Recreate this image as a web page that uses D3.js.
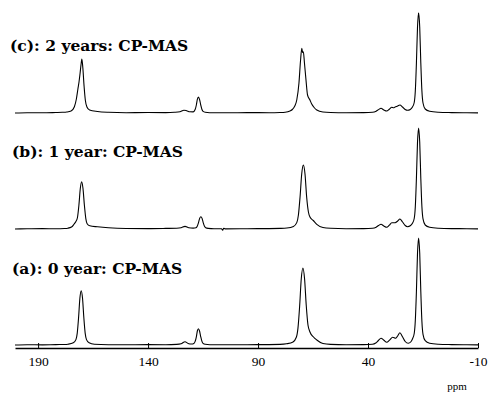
<!DOCTYPE html>
<html>
<head>
<meta charset="utf-8">
<script src="https://cdn.jsdelivr.net/npm/d3@7/dist/d3.min.js"></script>
<style>
  html, body { margin: 0; padding: 0; background: #fff; }
  svg { display: block; }
</style>
</head>
<body>
<svg id="chart" width="490" height="394"></svg>
<script>
// ---- data (ppm, intensity above baseline) ----
const tickValues = [190, 140, 90, 40, -10];
const tickLabels = ["190", "140", "90", "40", "-10"];
const axisUnit = "ppm";
const seriesLabels = ["(a): 0 year: CP-MAS", "(b): 1 year: CP-MAS", "(c): 2 years: CP-MAS"];

const specA = [
[200.5,0],[195,0.3],[188,0.1],[182,0.4],[178,0.5],[176.4,0.8],[174.0,2.2],[172.8,5.4],[172.2,11.9],[171.6,27.2],[171.0,46.7],[170.4,54.3],[169.8,46.7],[169.2,27.2],[168.6,11.9],[168.0,5.4],[166.8,2.2],[164.4,0.8],[158,0.3],[150,0.2],[140,0.4],[132,0.3],[127,0.6],[125,1.2],[123.2,3.3],[121.8,1.6],[120.2,1.0],[119.2,1.6],[118.6,3.6],[118.05,8.2],[117.6,14.0],[117.1,16.3],[116.6,14.0],[116.05,8.2],[115.5,3.6],[115.0,1.6],[114.0,0.7],[111.9,0.3],[105,0.2],[95,0.3],[85,0.4],[80,0.6],[77.1,1.2],[74.1,3.1],[72.6,7.7],[71.85,16.9],[71.1,38.5],[70.35,66.2],[69.6,77],[68.85,66.2],[68.1,40],[67.3,20],[66.4,13],[64.8,8],[63.3,5],[60.5,1.5],[57,0.6],[50,0.3],[42,0.4],[38,0.8],[36.5,2],[35.3,4.5],[34.1,6.7],[32.8,4.8],[31.5,2.7],[30.2,4.8],[28.8,7.7],[27.4,6.7],[26.4,9.5],[25.5,12.3],[24.4,8.5],[23.1,3.5],[21.7,1.7],[20.6,3],[19.8,6],[19,11.5],[18.5,24.5],[18,53.5],[17.5,92],[17,107],[16.5,92],[16,53.5],[15.5,23.5],[15,10.7],[14,4.3],[12,1.8],[8,0.8],[2,0.4],[-5,0.2],[-10,0.1]
];

const specB = [
[200.5,0],[195,0.2],[188,0.4],[182,0.2],[178,0.5],[176.5,0.8],[174.8,2],[173.6,5],[172.8,7.5],[172.1,11.5],[171.45,23.7],[170.8,40.7],[170.2,47.3],[169.6,40.7],[168.95,23.7],[168.3,10.4],[167.7,5.2],[166.5,3.2],[163,2.2],[158,1.2],[150,0.5],[140,0.4],[132,0.6],[127,0.8],[125,1.3],[123.2,2.6],[121.5,1.2],[119.5,0.9],[118.2,1.3],[117.65,2.7],[117.1,6.2],[116.55,10.6],[116.0,12.3],[115.45,10.6],[114.9,6.2],[114.35,2.7],[113.8,1.2],[112.7,0.6],[110,0.3],[106.6,0.3],[106.1,-1.3],[105.6,0.8],[105,0.1],[95,0.3],[85,0.4],[80,0.6],[76.9,1],[73.9,2.6],[72.4,6.4],[71.65,14],[70.9,32],[70.15,55],[69.4,64],[68.65,55],[67.9,32],[67.1,17],[66.4,12],[64.9,8.5],[63.3,4.7],[60.5,1.5],[57,0.7],[50,0.3],[42,0.4],[38,0.7],[36.3,1.8],[35.2,3.5],[34.1,4.7],[32.8,3],[31.5,1.7],[30.3,3.8],[29.2,6.3],[27.7,6.3],[26.5,8],[25.5,10],[24.3,7],[23.1,3.5],[22,2.3],[20.8,3.2],[19.8,5.8],[19,10.5],[18.5,22.2],[18,50.5],[17.5,86.9],[17,101],[16.5,86.9],[16,50.5],[15.5,22.2],[15,10.1],[14,4],[12,1.8],[8,0.8],[2,0.4],[-5,0.3],[-10,0.1]
];

const specC = [
[200.5,0],[195,0.3],[188,0.2],[182,0.5],[179,0.7],[177,1],[175,2],[173.5,6.3],[172.6,14],[171.9,24],[171.4,31],[170.9,40],[170.5,48],[170.1,54],[169.65,45],[169.1,27],[168.5,12.5],[167.8,6],[166.6,3],[163,1.5],[158,0.7],[150,0.3],[140,0.5],[132,0.4],[128,0.7],[125.5,1.3],[123.7,2.8],[122.5,2.3],[121,1.2],[119.5,1.1],[118.6,3.5],[118.05,8],[117.6,13.7],[117.1,15.9],[116.6,13.7],[116.05,8],[115.5,3.5],[115,1.6],[114,0.7],[112,0.3],[105,0.2],[95,0.4],[85,0.3],[80,0.5],[77.7,0.8],[75.5,2],[74.4,3.5],[73.3,7],[72.4,13],[71.4,30],[70.7,52],[70.1,64.7],[69.75,60.5],[69.4,61.3],[68.9,50],[68.2,33],[67.5,18],[66.4,13],[65.6,9],[64.5,5.5],[63.3,3],[60.5,1],[57,0.5],[50,0.3],[42,0.4],[38,0.7],[36.3,1.8],[35.2,3.4],[34.1,4.7],[32.8,3],[31.5,2],[30.3,3.8],[29.2,5.7],[28.4,5.2],[27.7,6],[26.5,7],[25.5,8],[24.3,6],[23.1,3.5],[22,2.7],[20.8,3.5],[19.8,6],[19,10.5],[18.5,22],[18,50],[17.5,86],[17,100.3],[16.5,86],[16,50],[15.5,22],[15,10],[14,4],[12,1.8],[8,0.8],[2,0.4],[-5,0.2],[-10,0.1]
];

// ---- layout ----
const svg = d3.select("#chart");
const axisY = 348;
const baselines = [345, 229, 113];
const labelPos = [[12, 274], [12, 156.5], [10, 50.5]];

const x = d3.scaleLinear().domain([200.5, -10]).range([15, 478]);
const y = d3.scaleLinear().domain([0, 100]).range([0, -100]);

const line = d3.line()
  .x(d => x(d[0]))
  .y(d => y(d[1]))
  .curve(d3.curveMonotoneX);

const spectra = [specA, specB, specC];
spectra.forEach((s, i) => {
  const g = svg.append("g").attr("transform", `translate(0,${baselines[i]})`);
  g.append("path")
    .datum(s)
    .attr("d", line)
    .attr("fill", "none")
    .attr("stroke", "#000")
    .attr("stroke-width", 1.1)
    .attr("stroke-linejoin", "round");
  svg.append("text")
    .attr("x", labelPos[i][0])
    .attr("y", labelPos[i][1])
    .attr("font-family", "'DejaVu Serif', serif")
    .attr("font-weight", "bold")
    .attr("font-size", "15.5px")
    .attr("fill", "#000")
    .text(seriesLabels[i]);
});

// ---- axis ----
const axis = d3.axisBottom(x)
  .tickValues(tickValues)
  .tickFormat((d, i) => tickLabels[i])
  .tickSizeInner(-5)
  .tickSizeOuter(0)
  .tickPadding(8);

const ga = svg.append("g")
  .attr("transform", `translate(0,${axisY})`)
  .call(axis);
ga.select(".domain").attr("stroke", "#000").attr("stroke-width", 1.3);
ga.selectAll(".tick line").attr("stroke", "#000").attr("stroke-width", 1);
ga.selectAll(".tick text")
  .attr("font-family", "'Liberation Serif', serif")
  .attr("font-size", "13.5px")
  .attr("fill", "#000");

svg.append("text")
  .attr("x", 457)
  .attr("y", 390)
  .attr("text-anchor", "middle")
  .attr("font-family", "'Liberation Serif', serif")
  .attr("font-size", "11px")
  .attr("fill", "#000")
  .text(axisUnit);
</script>
</body>
</html>
